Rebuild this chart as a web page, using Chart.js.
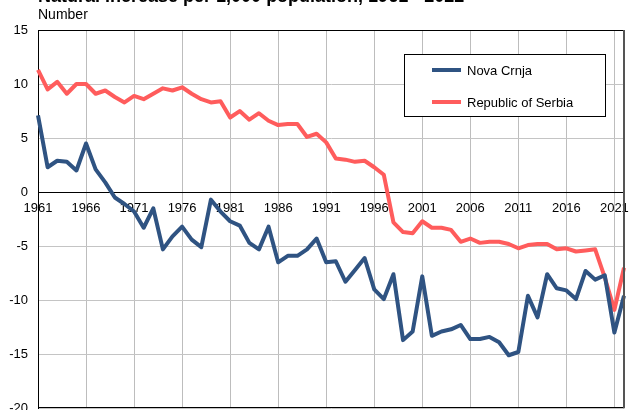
<!DOCTYPE html>
<html>
<head>
<meta charset="utf-8">
<script src="https://cdn.jsdelivr.net/npm/chart.js@4.4.1/dist/chart.umd.min.js"></script>
<style>
html, body { margin: 0; padding: 0; background: #fff; overflow: hidden; }
#wrap { position: relative; width: 634px; height: 426px; }
</style>
</head>
<body>
<div id="wrap"><canvas id="natChart" width="634" height="426"></canvas></div>
<script>
// Natural increase per 1,000 population
var years = ['1961', '1962', '1963', '1964', '1965', '1966', '1967', '1968', '1969', '1970',
             '1971', '1972', '1973', '1974', '1975', '1976', '1977', '1978', '1979', '1980',
             '1981', '1982', '1983', '1984', '1985', '1986', '1987', '1988', '1989', '1990',
             '1991', '1992', '1993', '1994', '1995', '1996', '1997', '1998', '1999', '2000',
             '2001', '2002', '2003', '2004', '2005', '2006', '2007', '2008', '2009', '2010',
             '2011', '2012', '2013', '2014', '2015', '2016', '2017', '2018', '2019', '2020',
             '2021', '2022'];

var novaCrnja = [7.1, 2.3, 2.9, 2.8, 2.0, 4.5, 2.1, 0.9, -0.5, -1.1,
                 -1.8, -3.3, -1.5, -5.3, -4.1, -3.2, -4.4, -5.1, -0.7, -1.8,
                 -2.7, -3.1, -4.7, -5.3, -3.2, -6.5, -5.9, -5.9, -5.3, -4.3,
                 -6.5, -6.4, -8.3, -7.2, -6.1, -9.0, -9.9, -7.6, -13.7, -12.9,
                 -7.8, -13.3, -12.9, -12.7, -12.3, -13.6, -13.6, -13.4, -13.9, -15.1,
                 -14.8, -9.6, -11.6, -7.6, -8.9, -9.1, -9.9, -7.3, -8.1, -7.7,
                 -13.0, -9.6];

var serbia = [11.3, 9.5, 10.2, 9.1, 10.0, 10.0, 9.1, 9.4, 8.8, 8.3,
              8.9, 8.6, 9.1, 9.6, 9.4, 9.7, 9.1, 8.6, 8.3, 8.4,
              6.9, 7.5, 6.7, 7.3, 6.6, 6.2, 6.3, 6.3, 5.1, 5.4,
              4.6, 3.1, 3.0, 2.8, 2.9, 2.3, 1.6, -2.8, -3.7, -3.8,
              -2.7, -3.3, -3.3, -3.5, -4.6, -4.3, -4.7, -4.6, -4.6, -4.8,
              -5.2, -4.9, -4.8, -4.8, -5.3, -5.2, -5.5, -5.4, -5.3, -7.9,
              -10.9, -7.0];

var yTicks = [-20, -15, -10, -5, 0, 5, 10, 15];

var FONT = '"Liberation Sans", Arial, sans-serif';

// title, subtitle, frame and legend box drawn on top of the chart
var decorPlugin = {
    id: 'decor',
    afterDraw: function(chart) {
        var ctx = chart.ctx;
        var area = chart.chartArea;
        ctx.save();

        // frame (top, bottom and right)
        ctx.strokeStyle = '#000';
        ctx.lineWidth = 1;
        ctx.beginPath();
        ctx.moveTo(area.left, Math.round(area.top) + 0.5);
        ctx.lineTo(area.right, Math.round(area.top) + 0.5);
        ctx.moveTo(area.left, Math.round(area.bottom) - 0.5);
        ctx.lineTo(area.right, Math.round(area.bottom) - 0.5);
        ctx.stroke();
        ctx.strokeStyle = '#555';
        ctx.lineWidth = 2;
        ctx.beginPath();
        ctx.moveTo(Math.round(area.right), area.top);
        ctx.lineTo(Math.round(area.right), area.bottom);
        ctx.stroke();

        // title (cut off at the top) and unit
        ctx.fillStyle = '#000';
        ctx.textBaseline = 'alphabetic';
        ctx.font = 'bold 18px ' + FONT;
        ctx.fillText('Natural increase per 1,000 population, 1961 - 2022', 38, 2);
        ctx.font = '14px ' + FONT;
        ctx.fillText('Number', 38, 19);

        // legend
        ctx.fillStyle = '#fff';
        ctx.fillRect(404.5, 54.5, 201, 62);
        ctx.strokeStyle = '#000';
        ctx.lineWidth = 1;
        ctx.strokeRect(404.5, 54.5, 201, 62);
        ctx.font = '13px ' + FONT;
        ctx.textBaseline = 'middle';
        chart.data.datasets.forEach(function(ds, i) {
            var y = 70 + i * 32;
            ctx.strokeStyle = ds.borderColor;
            ctx.lineWidth = 4;
            ctx.beginPath();
            ctx.moveTo(432, y);
            ctx.lineTo(461, y);
            ctx.stroke();
            ctx.fillStyle = '#000';
            ctx.fillText(ds.label, 467, y + 1);
        });
        ctx.restore();
    }
};

var ctxL = document.getElementById('natChart').getContext('2d');
var natChart = new Chart(ctxL, {
    type: 'line',
    data: {
        labels: years,
        datasets: [{
            label: 'Nova Crnja',
            data: novaCrnja,
            borderColor: '#2f5382',
            borderWidth: 4,
            pointRadius: 0,
            tension: 0,
            borderJoinStyle: 'round'
        }, {
            label: 'Republic of Serbia',
            data: serbia,
            borderColor: '#ff5c5c',
            borderWidth: 4,
            pointRadius: 0,
            tension: 0,
            borderJoinStyle: 'round'
        }]
    },
    options: {
        responsive: false,
        animation: false,
        layout: {
            padding: { top: 30, right: 10, bottom: 12, left: 0 }
        },
        plugins: {
            legend: { display: false },
            tooltip: { enabled: false }
        },
        scales: {
            x: {
                position: { y: 0 },
                offset: false,
                grid: {
                    drawTicks: false,
                    color: function(c) {
                        return c.index % 5 === 0 ? '#bdbdbd' : 'rgba(0,0,0,0)';
                    }
                },
                border: { color: '#000', width: 1 },
                ticks: {
                    autoSkip: false,
                    maxRotation: 0,
                    padding: 9,
                    color: '#000',
                    font: { family: FONT, size: 13 },
                    callback: function(value, index) {
                        return index % 5 === 0 ? this.getLabelForValue(value) : '';
                    }
                }
            },
            y: {
                min: yTicks[0],
                max: yTicks[yTicks.length - 1],
                afterBuildTicks: function(scale) {
                    scale.ticks = yTicks.map(function(v) { return { value: v }; });
                },
                afterFit: function(scale) {
                    scale.width = 38;
                },
                grid: { drawTicks: false, color: '#c4c4c4' },
                border: { color: '#000', width: 1 },
                ticks: {
                    padding: 10,
                    color: '#000',
                    font: { family: FONT, size: 13 }
                }
            }
        }
    },
    plugins: [decorPlugin]
});
</script>
</body>
</html>
